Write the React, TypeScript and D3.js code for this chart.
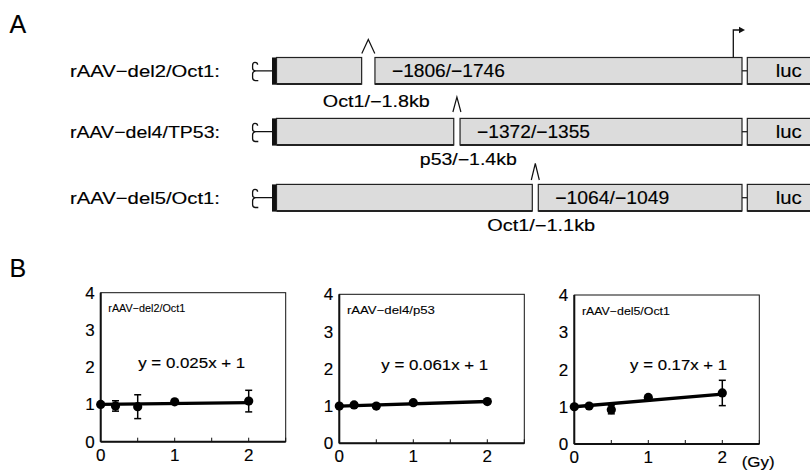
import React from "react";
import * as d3 from "d3";

// ---------- Panel A data ----------
const constructNames = ["rAAV−del2/Oct1:", "rAAV−del4/TP53:", "rAAV−del5/Oct1:"];
const siteLabels = ["Oct1/−1.8kb", "p53/−1.4kb", "Oct1/−1.1kb"];
const regionLabels = ["−1806/−1746", "−1372/−1355", "−1064/−1049"];
const deletionStartBp = [-1806, -1372, -1064];
const reporterLabel = "luc";

// ---------- Panel B data ----------
const doseGy = [0, 0.2, 0.5, 1, 2];
const del2Mean = [1.0, 0.96, 0.94, 1.07, 1.09];
const del2Err = [0, 0.14, 0.32, 0.03, 0.29];
const del4Mean = [1.0, 1.03, 1.0, 1.09, 1.12];
const del4Err = [0.02, 0.05, 0.05, 0.05, 0.05];
const del5Mean = [1.0, 1.02, 0.92, 1.25, 1.37];
const del5Err = [0.02, 0.03, 0.11, 0.04, 0.34];
const panelTitles = ["rAAV−del2/Oct1", "rAAV−del4/p53", "rAAV−del5/Oct1"];
const fitSlopes = [0.025, 0.061, 0.17];
const fitIntercepts = [1, 1, 1];
const equationLabels = ["y = 0.025x + 1", "y = 0.061x + 1", "y = 0.17x + 1"];
const yTicks = [0, 1, 2, 3, 4];
const xTicks = [0, 1, 2];
const xMinorTicks = [0.5, 1, 1.5, 2, 2.5];
const xUnitLabel = "(Gy)";

const FONT = "'Liberation Sans', Arial, sans-serif";
const TXT = { fill: "#000", stroke: "#000", strokeWidth: 0.15 };

// ---------- layout ----------
const rowCenters = [70.8, 131.7, 197.7];
const boxH = 26.6;
const itrBarX = 272;
const boxStartX = 276.5;
const boxEndX = 742;
const lucStartX = 747.3;
const gapWidths = [13.3, 6.3, 6];
const bpScale = d3.scaleLinear().domain([-1806, -1372, -1064]).range([368.3, 456.9, 535.3]);
const caretLayout = [
  { w: 13, top: 39.5, bottom: 53.5 },
  { w: 8, top: 97, bottom: 112 },
  { w: 8, top: 163.5, bottom: 180 },
];
const siteLabelLayout = [
  { cx: 376.3, y: 106.5, len: 107 },
  { cx: 468.3, y: 164.5, len: 97 },
  { cx: 541.2, y: 230.5, len: 108 },
];
const regionLen = [113, 113, 114];

const panelLayout = [
  { left: 100.7, top: 292.7, eqX: 1.23, titleLen: 77, eqLen: 107 },
  { left: 339.3, top: 294.3, eqX: 1.29, titleLen: 88, eqLen: 107 },
  { left: 574.3, top: 295.0, eqX: 1.41, titleLen: 88, eqLen: 97 },
];
const plotW = 185;
const plotH = 149;

function Box({ x0, x1, y0 }: { x0: number; x1: number; y0: number }) {
  return (
    <g>
      <rect x={x0} y={y0} width={x1 - x0} height={boxH} fill="#dcdcdc" stroke="#222" strokeWidth={1.2} />
      <line x1={x0} x2={x1} y1={y0 + boxH} y2={y0 + boxH} stroke="#222" strokeWidth={2} />
    </g>
  );
}

function Construct({ i }: { i: number }) {
  const cy = rowCenters[i];
  const y0 = cy - boxH / 2;
  const gc = bpScale(deletionStartBp[i]);
  const g0 = gc - gapWidths[i] / 2;
  const g1 = gc + gapWidths[i] / 2;
  const c = caretLayout[i];
  const sl = siteLabelLayout[i];
  const itr =
    `M 257.6 ${cy - 6} Q 257.6 ${cy - 8.4} 255 ${cy - 8.4} Q 252.6 ${cy - 8.4} 252.6 ${cy - 5.5} V ${cy - 2.5} ` +
    `Q 252.6 ${cy} 256 ${cy} H ${itrBarX} ` +
    `M 256 ${cy} Q 252.6 ${cy + 0.4} 252.6 ${cy + 3} V ${cy + 7} Q 252.6 ${cy + 9.8} 255.5 ${cy + 9.8} H 258.3`;
  return (
    <g>
      <text x={70} y={cy + 6} fontSize={17} fontFamily={FONT} textLength={150} lengthAdjust="spacingAndGlyphs" {...TXT}>
        {constructNames[i]}
      </text>
      <path d={itr} fill="none" stroke="#111" strokeWidth={1.3} />
      <Box x0={boxStartX} x1={g0} y0={y0} />
      <rect x={itrBarX} y={y0} width={4} height={boxH + 0.6} fill="#111" />
      <Box x0={g1} x1={boxEndX} y0={y0} />
      <line x1={boxEndX} x2={lucStartX} y1={cy} y2={cy} stroke="#222" strokeWidth={1.3} />
      <Box x0={lucStartX} x1={830} y0={y0} />
      <text x={775.7} y={cy + 6.5} fontSize={18.5} fontFamily={FONT} textLength={26} lengthAdjust="spacingAndGlyphs" {...TXT}>
        {reporterLabel}
      </text>
      <text x={g1 + 17} y={cy + 6.5} fontSize={18} fontFamily={FONT} textLength={regionLen[i]} lengthAdjust="spacingAndGlyphs" {...TXT}>
        {regionLabels[i]}
      </text>
      <path
        d={`M ${gc - c.w / 2} ${c.bottom} L ${gc} ${c.top} L ${gc + c.w / 2} ${c.bottom}`}
        fill="none"
        stroke="#111"
        strokeWidth={1.2}
      />
      <text
        x={sl.cx}
        y={sl.y}
        textAnchor="middle"
        fontSize={16}
        fontFamily={FONT}
        textLength={sl.len}
        lengthAdjust="spacingAndGlyphs"
        {...TXT}
      >
        {siteLabels[i]}
      </text>
      {i === 0 && (
        <g>
          <path d={`M 733.3 ${y0} V 30 H 740`} fill="none" stroke="#111" strokeWidth={1.3} />
          <path d="M 739 26.8 L 745 30 L 739 33.2 Z" fill="#111" />
        </g>
      )}
    </g>
  );
}

function Panel({ i, mean, err }: { i: number; mean: number[]; err: number[] }) {
  const L = panelLayout[i];
  const x = d3.scaleLinear().domain([0, 2.5]).range([L.left, L.left + plotW]);
  const y = d3.scaleLinear().domain([0, 4]).range([L.top + plotH, L.top]);
  const fit = d3
    .line<number>()
    .x((d) => x(d))
    .y((d) => y(fitSlopes[i] * d + fitIntercepts[i]));
  const bottom = L.top + plotH;
  return (
    <g fontFamily={FONT}>
      <rect x={L.left} y={L.top} width={plotW} height={plotH} fill="#fff" stroke="#111" strokeWidth={1} />
      <line x1={L.left} x2={L.left} y1={L.top} y2={bottom} stroke="#111" strokeWidth={2} />
      <line x1={L.left} x2={L.left + plotW} y1={bottom} y2={bottom} stroke="#111" strokeWidth={2} />
      {xMinorTicks.map((t) => (
        <line key={t} x1={x(t)} x2={x(t)} y1={bottom} y2={bottom - 4} stroke="#111" strokeWidth={1} />
      ))}
      {yTicks.map((t) => (
        <text key={t} x={L.left - 6} y={y(t) + 6} textAnchor="end" fontSize={17} {...TXT}>
          {t}
        </text>
      ))}
      {xTicks.map((t) => (
        <text key={t} x={x(t)} y={bottom + 19} textAnchor="middle" fontSize={17} {...TXT}>
          {t}
        </text>
      ))}
      <text x={L.left + 7.6} y={L.top + 19.5} fontSize={11.5} textLength={L.titleLen} lengthAdjust="spacingAndGlyphs" {...TXT} strokeWidth={0.1}>
        {panelTitles[i]}
      </text>
      <text
        x={x(L.eqX)}
        y={y(1.98)}
        textAnchor="middle"
        fontSize={15.5}
        textLength={L.eqLen}
        lengthAdjust="spacingAndGlyphs"
        {...TXT}
      >
        {equationLabels[i]}
      </text>
      <path d={fit([0, 2]) || ""} fill="none" stroke="#000" strokeWidth={3.3} />
      {doseGy.map((d, k) => (
        <g key={k}>
          {err[k] > 0.02 && (
            <g stroke="#000" strokeWidth={1.5}>
              <line x1={x(d)} x2={x(d)} y1={y(mean[k] - err[k])} y2={y(mean[k] + err[k])} />
              <line x1={x(d) - 3.5} x2={x(d) + 3.5} y1={y(mean[k] - err[k])} y2={y(mean[k] - err[k])} />
              <line x1={x(d) - 3.5} x2={x(d) + 3.5} y1={y(mean[k] + err[k])} y2={y(mean[k] + err[k])} />
            </g>
          )}
          <circle cx={x(d)} cy={y(mean[k])} r={4.6} fill="#000" />
        </g>
      ))}
      {i === 2 && (
        <text x={741.7} y={466.5} fontSize={14.5} textLength={33} lengthAdjust="spacingAndGlyphs" {...TXT}>
          {xUnitLabel}
        </text>
      )}
    </g>
  );
}

export default function App() {
  return (
    <svg
      width={810}
      height={470}
      viewBox="0 0 810 470"
      style={{ position: "fixed", left: 0, top: 0, background: "#fff" }}
    >
      <rect width={810} height={470} fill="#fff" />
      <text x={9.5} y={33} fontSize={25} fontFamily={FONT} {...TXT}>
        A
      </text>
      <text x={9.5} y={277} fontSize={25} fontFamily={FONT} {...TXT}>
        B
      </text>
      {constructNames.map((_, i) => (
        <Construct key={i} i={i} />
      ))}
      <Panel i={0} mean={del2Mean} err={del2Err} />
      <Panel i={1} mean={del4Mean} err={del4Err} />
      <Panel i={2} mean={del5Mean} err={del5Err} />
    </svg>
  );
}
